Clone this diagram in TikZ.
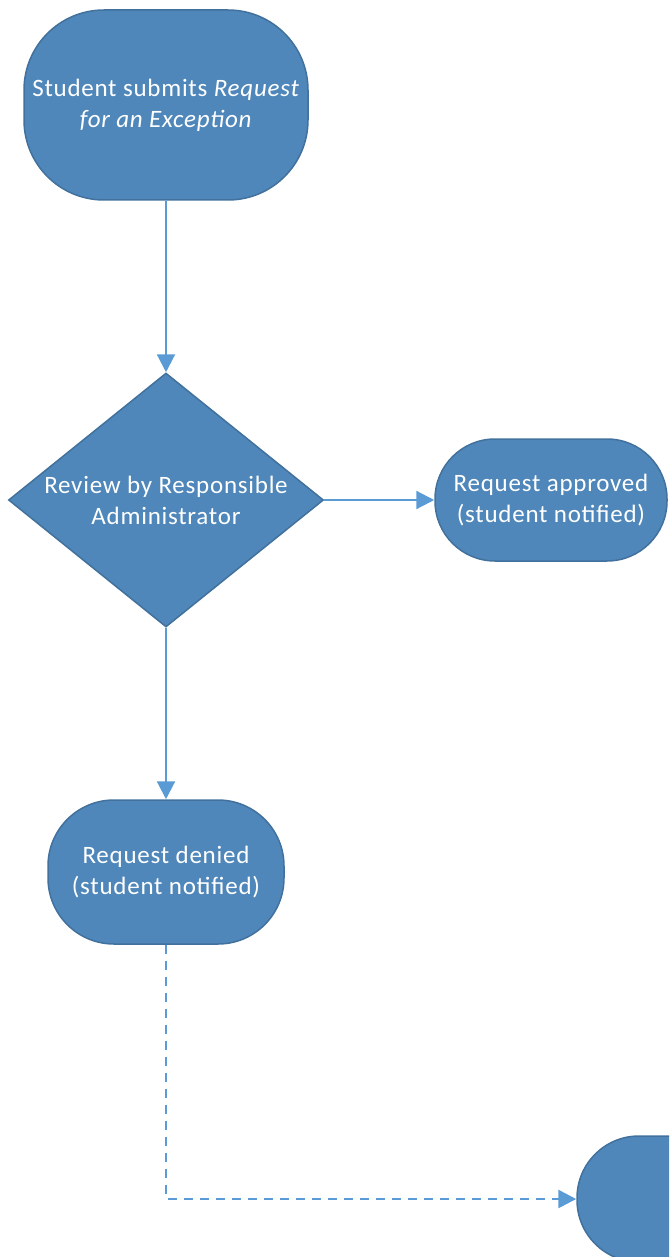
\documentclass[tikz,border=0pt]{standalone}
\usepackage{fontspec}
\setmainfont{Carlito}
\newfontfamily\boxfont[LetterSpace=3]{Carlito}
\usetikzlibrary{shapes.geometric,arrows.meta}
\definecolor{boxfill}{HTML}{4F87BA}
\definecolor{boxline}{HTML}{41719C}
\definecolor{arrowc}{HTML}{5B9BD5}
\tikzset{
  pill/.style={draw=boxline, line width=1.5pt, fill=boxfill, text=white, align=center,
    inner sep=0pt, font=\boxfont\fontsize{25}{31}\selectfont},
  decide/.style={diamond, draw=boxline, line width=1.5pt, fill=boxfill, text=white, align=center,
    inner sep=0pt, aspect=1.24, font=\boxfont\fontsize{25}{31}\selectfont},
  conn/.style={draw=arrowc, line width=2.2pt, -{Triangle[length=18pt,width=18pt]}},
  dconn/.style={conn, line width=2.6pt, dash pattern=on 9pt off 7pt}
}
\begin{document}
\begin{tikzpicture}[x=1pt,y=-1pt]
\useasboundingbox (0,0) rectangle (669,1257);
\node[pill, minimum width=284pt, minimum height=190pt, rounded corners=80pt] (start) at (166,105)
  {Student submits \textit{Request}\\\textit{for an Exception}};
\node[decide, minimum width=315pt, minimum height=254pt] (review) at (166,500)
  {Review by Responsible\\Administrator};
\node[pill, minimum width=232pt, minimum height=122pt, rounded corners=60pt] (approved) at (551,500)
  {Request approved\\(student notified)};
\node[pill, minimum width=236pt, minimum height=144pt, rounded corners=66pt] (denied) at (166,872)
  {Request denied\\(student notified)};
\begin{scope}
\clip (0,0) rectangle (669,1257);
\node[pill, minimum width=232pt, minimum height=126pt, rounded corners=62pt] (next) at (693,1199) {};
\end{scope}
\draw[conn] (start.south) -- (review.north);
\draw[conn] (review.east) -- (approved.west);
\draw[conn] (review.south) -- (denied.north);
\draw[dconn] (denied.south) |- (next.west);
\end{tikzpicture}
\end{document}
